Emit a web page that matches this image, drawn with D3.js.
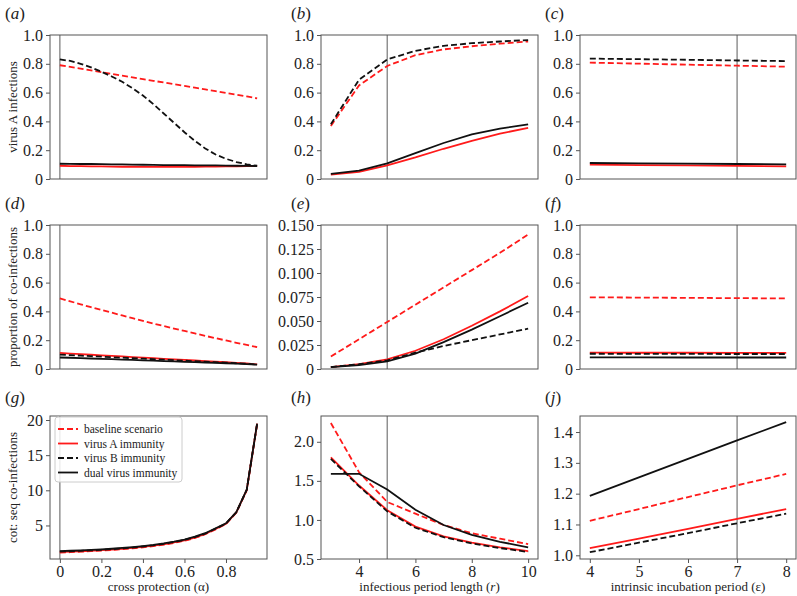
<!DOCTYPE html>
<html><head><meta charset="utf-8">
<script src="https://cdn.jsdelivr.net/npm/d3@7"></script>
<style>
body{margin:0;background:#fff;}
svg{display:block;}
svg text{font-family:"Liberation Serif","DejaVu Serif",serif !important;}
</style></head>
<body>
<svg id="chart" width="797" height="596"></svg>
<script>
// ---------- data ----------
const alpha = [0,0.05,0.1,0.15,0.2,0.25,0.3,0.35,0.4,0.45,0.5,0.55,0.6,0.65,0.7,0.75,0.8,0.85,0.9,0.95];
const rLen  = [3,4,5,6,7,8,9,10];
const eps   = [4,5,6,7,8];
const seriesNames = ["baseline scenario","virus A immunity","virus B immunity","dual virus immunity"];

// (a) virus A infections vs cross protection
const aBaseline = [0.790,0.778,0.766,0.754,0.742,0.730,0.718,0.706,0.694,0.682,0.670,0.658,0.646,0.634,0.622,0.610,0.598,0.586,0.573,0.560];
const aVirusA   = [0.092,0.090,0.089,0.088,0.087,0.086,0.085,0.085,0.084,0.084,0.084,0.084,0.085,0.085,0.086,0.086,0.087,0.088,0.089,0.090];
const aVirusB   = [0.830,0.820,0.800,0.775,0.745,0.712,0.675,0.630,0.580,0.520,0.455,0.390,0.325,0.265,0.212,0.170,0.140,0.118,0.102,0.092];
const aDual     = [0.106,0.105,0.104,0.104,0.103,0.102,0.101,0.100,0.099,0.098,0.097,0.097,0.096,0.095,0.094,0.094,0.093,0.092,0.091,0.090];
// (b) virus A infections vs infectious period
const bBaseline = [0.368,0.650,0.785,0.860,0.900,0.922,0.940,0.955];
const bVirusA   = [0.030,0.050,0.095,0.150,0.210,0.265,0.315,0.355];
const bVirusB   = [0.380,0.690,0.830,0.890,0.925,0.943,0.955,0.965];
const bDual     = [0.035,0.058,0.108,0.180,0.250,0.310,0.350,0.380];
// (c) virus A infections vs incubation period
const cBaseline = [0.808,0.801,0.794,0.787,0.780];
const cVirusA   = [0.100,0.097,0.094,0.091,0.088];
const cVirusB   = [0.836,0.832,0.828,0.823,0.819];
const cDual     = [0.111,0.109,0.107,0.104,0.102];
// (d) proportion of co-infections vs cross protection
const dBaseline = [0.490,0.470,0.449,0.429,0.410,0.391,0.372,0.353,0.334,0.316,0.299,0.281,0.264,0.247,0.230,0.214,0.198,0.182,0.167,0.152];
const dVirusA   = [0.112,0.107,0.103,0.099,0.095,0.091,0.087,0.083,0.079,0.075,0.071,0.067,0.063,0.059,0.055,0.051,0.047,0.043,0.039,0.032];
const dVirusB   = [0.100,0.096,0.093,0.089,0.086,0.082,0.079,0.075,0.072,0.068,0.065,0.061,0.058,0.054,0.051,0.047,0.044,0.040,0.036,0.031];
const dDual     = [0.080,0.078,0.075,0.073,0.070,0.068,0.065,0.063,0.060,0.058,0.055,0.053,0.050,0.048,0.045,0.043,0.040,0.037,0.034,0.030];
// (e) proportion of co-infections vs infectious period
const eBaseline = [0.013,0.031,0.049,0.067,0.085,0.103,0.121,0.140];
const eVirusA   = [0.002,0.005,0.010,0.019,0.031,0.045,0.060,0.076];
const eVirusB   = [0.002,0.005,0.009,0.017,0.024,0.030,0.036,0.042];
const eDual     = [0.002,0.004,0.008,0.016,0.028,0.041,0.055,0.069];
// (f) proportion of co-infections vs incubation period
const fBaseline = [0.498,0.496,0.494,0.492,0.490];
const fVirusA   = [0.114,0.113,0.113,0.112,0.112];
const fVirusB   = [0.106,0.105,0.105,0.104,0.104];
const fDual     = [0.081,0.081,0.080,0.080,0.080];
// (g) cot:seq co-infections vs cross protection
const gBaseline = [1.15,1.20,1.27,1.34,1.42,1.51,1.62,1.74,1.89,2.06,2.27,2.52,2.83,3.22,3.75,4.45,5.20,6.85,10.0,19.45];
const gVirusA   = [1.22,1.27,1.33,1.40,1.48,1.57,1.68,1.80,1.95,2.12,2.33,2.58,2.89,3.28,3.80,4.50,5.25,6.87,10.05,19.5];
const gVirusB   = [1.28,1.33,1.39,1.46,1.54,1.63,1.74,1.86,2.01,2.18,2.39,2.64,2.95,3.34,3.85,4.55,5.28,6.88,10.07,19.5];
const gDual     = [1.35,1.40,1.46,1.52,1.60,1.69,1.80,1.92,2.07,2.24,2.45,2.70,3.00,3.40,3.90,4.60,5.30,6.90,10.1,19.5];
// (h) cot:seq co-infections vs infectious period
const hBaseline = [2.24,1.61,1.23,1.08,0.935,0.83,0.76,0.69];
const hVirusA   = [1.80,1.44,1.125,0.915,0.79,0.71,0.65,0.60];
const hVirusB   = [1.78,1.43,1.11,0.90,0.78,0.70,0.64,0.59];
const hDual     = [1.59,1.59,1.39,1.13,0.935,0.81,0.72,0.65];
// (j) cot:seq co-infections vs incubation period
const jBaseline = [1.112,1.150,1.189,1.227,1.264];
const jVirusA   = [1.023,1.054,1.086,1.118,1.150];
const jVirusB   = [1.010,1.041,1.072,1.104,1.135];
const jDual     = [1.193,1.253,1.313,1.373,1.432];

// tick labels
const tick01   = [0,0.2,0.4,0.6,0.8,1.0];
const tick01Lb = ["0","0.2","0.4","0.6","0.8","1.0"];
const tickE    = [0,0.025,0.05,0.075,0.1,0.125,0.15];
const tickELb  = ["0","0.025","0.050","0.075","0.100","0.125","0.150"];
const tickG    = [5,10,15,20];
const tickGLb  = ["5","10","15","20"];
const tickH    = [0.5,1.0,1.5,2.0];
const tickHLb  = ["0.5","1.0","1.5","2.0"];
const tickJ    = [1.0,1.1,1.2,1.3,1.4];
const tickJLb  = ["1.0","1.1","1.2","1.3","1.4"];
const xTickAlpha = [0,0.2,0.4,0.6,0.8];
const xTickAlphaLb = ["0","0.2","0.4","0.6","0.8"];
const xTickR = [4,6,8,10];
const xTickRLb = ["4","6","8","10"];
const xTickEps = [4,5,6,7,8];
const xTickEpsLb = ["4","5","6","7","8"];

const xLabels = ["cross protection (\u03b1)", "infectious period length (", "intrinsic incubation period (\u03b5)"];
const yLabels = ["virus A infections","proportion of co-infections","cot: seq co-infections"];
const refValues = [0, 5, 7];

// ---------- layout ----------
const svg = d3.select("#chart");
const cols = [[50,267],[321,538],[580,796]];
const rows = [[35,179],[225,369],[416,559]];
const xDomains = [[-0.0475,0.9975],[2.65,10.35],[3.8,8.2]];
const xVals = [alpha, rLen, eps];
const xTicks = [[xTickAlpha,xTickAlphaLb],[xTickR,xTickRLb],[xTickEps,xTickEpsLb]];

const panels = [
  {lab:"a", r:0,c:0, y:[0,1], t:[tick01,tick01Lb], d:[aBaseline,aVirusA,aVirusB,aDual]},
  {lab:"b", r:0,c:1, y:[0,1], t:[tick01,tick01Lb], d:[bBaseline,bVirusA,bVirusB,bDual]},
  {lab:"c", r:0,c:2, y:[0,1], t:[tick01,tick01Lb], d:[cBaseline,cVirusA,cVirusB,cDual]},
  {lab:"d", r:1,c:0, y:[0,1], t:[tick01,tick01Lb], d:[dBaseline,dVirusA,dVirusB,dDual]},
  {lab:"e", r:1,c:1, y:[0,0.15], t:[tickE,tickELb], d:[eBaseline,eVirusA,eVirusB,eDual]},
  {lab:"f", r:1,c:2, y:[0,1], t:[tick01,tick01Lb], d:[fBaseline,fVirusA,fVirusB,fDual]},
  {lab:"g", r:2,c:0, y:[0.23,20.57], t:[tickG,tickGLb], d:[gBaseline,gVirusA,gVirusB,gDual]},
  {lab:"h", r:2,c:1, y:[0.5,2.33], t:[tickH,tickHLb], d:[hBaseline,hVirusA,hVirusB,hDual]},
  {lab:"j", r:2,c:2, y:[0.988,1.452], t:[tickJ,tickJLb], d:[jBaseline,jVirusA,jVirusB,jDual]}
];
const styles = [
  {color:"#ff1a1a", dash:"6,3"},
  {color:"#ff1a1a", dash:null},
  {color:"#111", dash:"6,3"},
  {color:"#111", dash:null}
];
const serif = "Liberation Serif, DejaVu Serif, serif";

panels.forEach((p,i)=>{
  const [x0,x1] = cols[p.c], [y0,y1] = rows[p.r];
  const x = d3.scaleLinear().domain(xDomains[p.c]).range([x0,x1]);
  const y = d3.scaleLinear().domain(p.y).range([y1,y0]);
  const g = svg.append("g");
  const cid = "clip"+i;
  svg.append("clipPath").attr("id",cid).append("rect")
    .attr("x",x0).attr("y",y0).attr("width",x1-x0).attr("height",y1-y0);

  // reference line
  g.append("line").attr("x1",x(refValues[p.c])).attr("x2",x(refValues[p.c]))
    .attr("y1",y0).attr("y2",y1).attr("stroke","#808080").attr("stroke-width",1.3);

  // lines
  const line = d3.line().x((d,k)=>x(xVals[p.c][k])).y(d=>y(d));
  const lg = g.append("g").attr("clip-path",`url(#${cid})`);
  p.d.forEach((arr,s)=>{
    lg.append("path").datum(arr).attr("d",line).attr("fill","none")
      .attr("stroke",styles[s].color).attr("stroke-width",1.8)
      .attr("stroke-dasharray",styles[s].dash);
  });

  // frame
  g.append("rect").attr("x",x0).attr("y",y0).attr("width",x1-x0).attr("height",y1-y0)
    .attr("fill","none").attr("stroke","#555").attr("stroke-width",1);

  // y axis
  const ya = g.append("g").attr("transform",`translate(${x0},0)`)
    .call(d3.axisLeft(y).tickValues(p.t[0]).tickFormat((d,k)=>p.t[1][k]).tickSize(4).tickPadding(3));
  ya.attr("font-family",serif);
  ya.select(".domain").remove();
  ya.selectAll("line").attr("stroke","#555");
  ya.selectAll("text").attr("font-family",serif).attr("font-size",16).attr("fill","#222");

  // x axis for bottom row
  if (p.r===2){
    const xa = g.append("g").attr("transform",`translate(0,${y1})`)
      .call(d3.axisBottom(x).tickValues(xTicks[p.c][0]).tickFormat((d,k)=>xTicks[p.c][1][k]).tickSize(4).tickPadding(3));
    xa.attr("font-family",serif);
    xa.select(".domain").remove();
    xa.selectAll("line").attr("stroke","#555");
    xa.selectAll("text").attr("font-family",serif).attr("font-size",16).attr("fill","#222");
    const xl = g.append("text").attr("x",(x0+x1)/2).attr("y",591).attr("text-anchor","middle")
      .attr("font-family",serif).attr("font-size",13).attr("fill","#222");
    if (p.c===1){
      xl.text("infectious period length (");
      xl.append("tspan").attr("font-style","italic").text("r");
      xl.append("tspan").text(")");
    } else xl.text(xLabels[p.c]);
  }

  // y label for left column
  if (p.c===0){
    svg.append("text").attr("transform",`translate(17,${(y0+y1)/2}) rotate(-90)`)
      .attr("text-anchor","middle").attr("font-family",serif).attr("font-size",13).attr("fill","#222")
      .text(yLabels[p.r]);
  }

  // panel label
  const plx = [5,291,545][p.c];
  const ply = [19,209,403][p.r];
  const pl = svg.append("text").attr("x",plx).attr("y",ply).attr("font-family",serif)
    .attr("font-size",17).attr("fill","#222");
  pl.append("tspan").text("(");
  pl.append("tspan").attr("font-style","italic").text(p.lab);
  pl.append("tspan").text(")");

  // legend in (g)
  if (p.lab==="g"){
    const lgx = 55, lgy = 417;
    const leg = svg.append("g");
    leg.append("rect").attr("x",lgx).attr("y",lgy).attr("width",127).attr("height",65)
      .attr("rx",3).attr("fill","white").attr("fill-opacity",0.85).attr("stroke","#ccc");
    seriesNames.forEach((nm,s)=>{
      const yy = lgy + 12 + s*14.5;
      leg.append("line").attr("x1",lgx+3).attr("x2",lgx+23).attr("y1",yy).attr("y2",yy)
        .attr("stroke",styles[s].color).attr("stroke-width",1.8).attr("stroke-dasharray",styles[s].dash);
      leg.append("text").attr("x",lgx+29).attr("y",yy).attr("dy","0.35em")
        .attr("font-family",serif).attr("font-size",11.5).attr("fill","#222").text(nm);
    });
  }
});
</script>
</body></html>
